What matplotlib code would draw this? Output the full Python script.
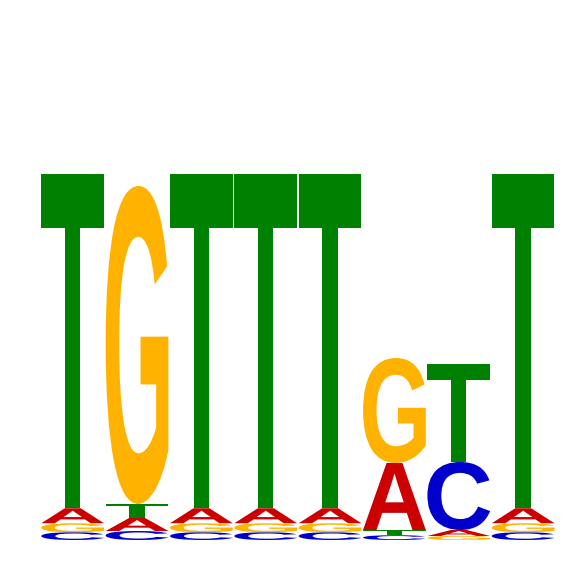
import numpy as np
import matplotlib
matplotlib.use("Agg")
import matplotlib.pyplot as plt
from matplotlib.textpath import TextPath
from matplotlib.patches import PathPatch
from matplotlib.font_manager import FontProperties
from matplotlib.transforms import Affine2D

# ── DATA (letter heights in bits, per position) ─────────────────────────
positions = [1, 2, 3, 4, 5, 6, 7, 8]
A_bits = [0.060, 0.052, 0.060, 0.060, 0.060, 0.268, 0.024, 0.060]
C_bits = [0.031, 0.036, 0.031, 0.031, 0.031, 0.019, 0.272, 0.031]
G_bits = [0.036, 1.272, 0.036, 0.036, 0.036, 0.420, 0.016, 0.036]
T_bits = [1.338, 0.056, 1.338, 1.338, 1.338, 0.021, 0.392, 1.338]

COLORS = {"A": "#CC0000", "C": "#0000CC", "G": "#FFB300", "T": "#008000"}
FONT = FontProperties(family="Liberation Sans", weight="bold")
LETTER_W = 0.975

def draw_letter(ax, letter, x, y0, h):
    tp = TextPath((0, 0), letter, size=1, prop=FONT)
    bb = tp.get_extents()
    tr = (Affine2D()
          .translate(-bb.x0, -bb.y0)
          .scale(LETTER_W / bb.width, h / bb.height)
          .translate(x - LETTER_W / 2, y0))
    ax.add_patch(PathPatch(tr.transform_path(tp), facecolor=COLORS[letter],
                           edgecolor="none"))

fig = plt.figure(figsize=(5.66, 5.66), dpi=100, facecolor="white")
ax = fig.add_axes([40.5 / 566, 26 / 566, 514.8 / 566, 540 / 566])
ax.set_xlim(0.5, 8.5)
ax.set_ylim(0, 2.16)
ax.axis("off")

for i, pos in enumerate(positions):
    col = {"A": A_bits[i], "C": C_bits[i], "G": G_bits[i], "T": T_bits[i]}
    y = 0.0
    for letter, h in sorted(col.items(), key=lambda kv: kv[1]):
        draw_letter(ax, letter, pos, y, h)
        y += h

fig.savefig("out.png", dpi=100, facecolor="white")
